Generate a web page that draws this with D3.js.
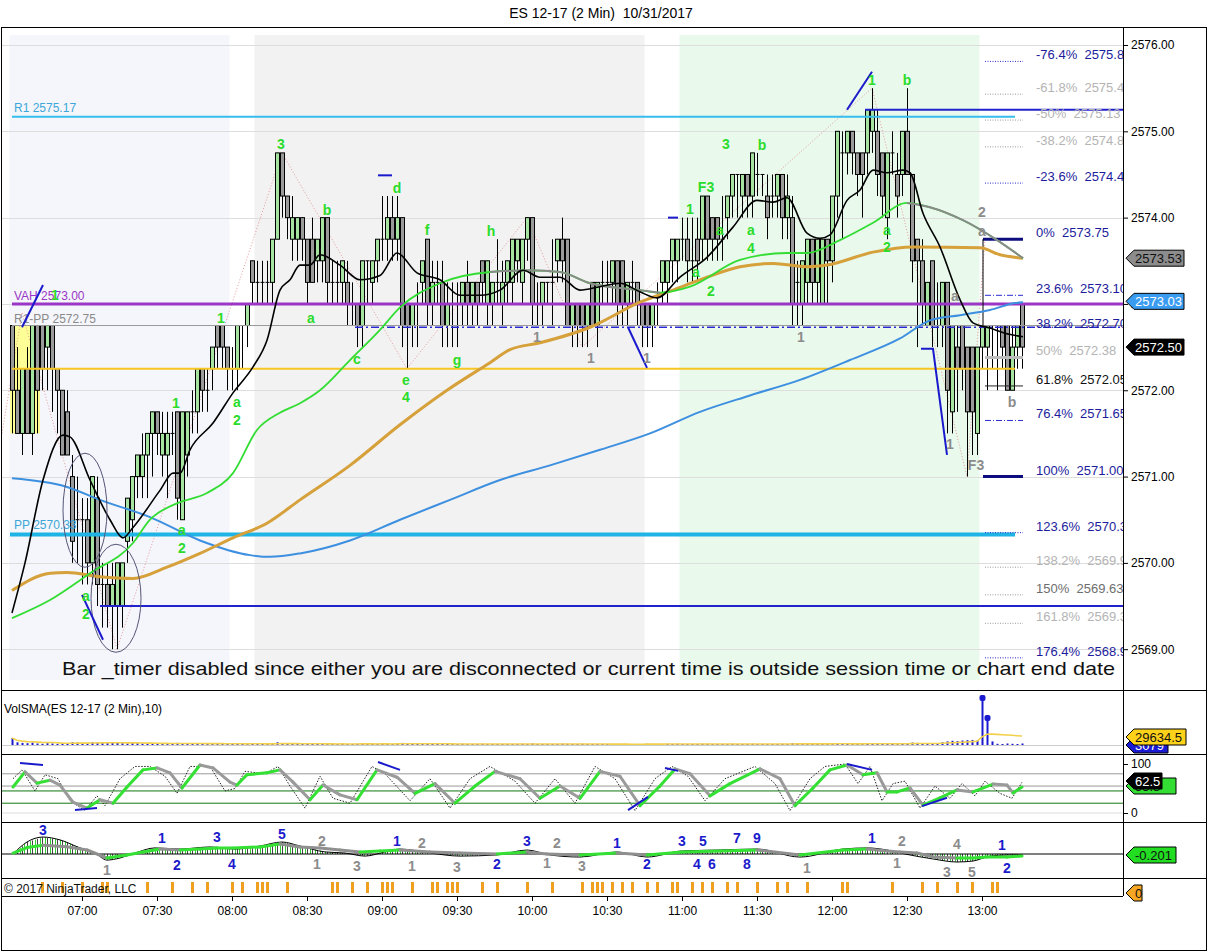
<!DOCTYPE html>
<html><head><meta charset="utf-8">
<script src="https://cdn.jsdelivr.net/npm/d3@7"></script>
<style>html,body{margin:0;padding:0;background:#fff;}svg{display:block;font-family:"Liberation Sans",Arial,sans-serif;}</style>
</head><body><svg id="c" width="1208" height="952"></svg>
<script>
// ---------------- DATA ----------------
const title = "ES 12-17 (2 Min)  10/31/2017";
const firstBar = "06:32";
const barMinutes = 2;
const priceTicks = [2569, 2570, 2571, 2572, 2573, 2574, 2575, 2576];
const timeTicks = ["07:00","07:30","08:00","08:30","09:00","09:30","10:00","10:30","11:00","11:30","12:00","12:30","13:00"];
const sessions = [["06:31","07:59"],["08:09","10:45"],["10:59","12:59"]];
// [open, high, low, close]
const ohlc = [
[2572.75,2572.75,2571.5,2572.0],[2572.0,2572.5,2571.5,2571.5],[2571.5,2572.25,2571.25,2572.25],[2572.25,2572.5,2571.5,2571.5],[2571.5,2572.75,2571.25,2572.75],
[2572.75,2572.75,2571.5,2572.0],[2572.75,2572.75,2572.0,2572.25],[2572.5,2572.75,2572.0,2572.75],[2572.75,2572.75,2571.75,2572.25],[2572.25,2572.25,2571.5,2572.0],
[2572.0,2572.0,2571.25,2571.25],[2571.75,2572.0,2571.25,2571.25],[2571.0,2571.25,2570.0,2570.25],[2570.5,2571.0,2570.0,2570.5],[2570.5,2570.75,2569.75,2570.5],
[2570.5,2570.75,2569.75,2570.0],[2570.0,2571.0,2569.75,2571.0],[2570.75,2571.0,2569.5,2569.75],[2569.75,2570.0,2569.25,2569.75],[2569.75,2570.0,2569.25,2569.5],
[2569.5,2570.0,2569.0,2569.75],[2569.5,2570.0,2569.0,2570.0],[2569.5,2570.0,2569.25,2570.0],[2570.25,2570.75,2570.0,2570.75],[2570.5,2571.0,2570.25,2571.0],
[2571.0,2571.25,2570.75,2571.25],[2571.0,2571.5,2570.75,2571.25],[2571.25,2571.5,2570.75,2571.5],[2571.5,2571.75,2571.0,2571.75],[2571.75,2571.75,2571.25,2571.5],
[2571.25,2571.75,2571.0,2571.5],[2571.25,2571.75,2570.75,2571.5],[2571.5,2571.75,2571.25,2571.5],[2571.75,2571.75,2570.5,2570.75],[2570.5,2571.75,2570.5,2571.75],
[2571.25,2571.75,2571.0,2571.75],[2571.75,2572.0,2571.5,2571.75],[2571.75,2572.25,2571.5,2572.25],[2572.25,2572.25,2571.75,2572.0],[2572.0,2572.25,2571.75,2572.0],
[2572.25,2572.5,2572.0,2572.5],[2572.75,2572.75,2572.25,2572.5],[2572.75,2572.75,2572.25,2572.5],[2572.5,2572.5,2572.0,2572.25],[2572.25,2572.5,2572.0,2572.25],
[2572.25,2572.75,2572.0,2572.75],[2572.75,2572.75,2572.25,2572.75],[2572.75,2573.0,2572.5,2573.0],[2573.5,2573.5,2573.0,2573.25],[2573.25,2573.5,2573.0,2573.25],
[2573.25,2573.5,2573.0,2573.25],[2573.25,2573.5,2573.0,2573.25],[2573.25,2573.75,2573.0,2573.75],[2573.75,2574.75,2573.75,2574.75],[2574.75,2574.75,2574.0,2574.25],
[2574.25,2574.25,2573.75,2574.0],[2573.75,2574.25,2573.5,2574.0],[2573.75,2574.0,2573.5,2574.0],[2574.0,2574.0,2573.5,2573.75],[2573.75,2573.75,2573.0,2573.25],
[2573.75,2574.0,2573.25,2573.25],[2573.5,2573.75,2573.25,2573.75],[2573.5,2574.0,2573.25,2574.0],[2574.0,2574.0,2573.0,2573.25],[2573.25,2573.5,2573.0,2573.25],
[2573.25,2573.5,2573.0,2573.25],[2573.25,2573.5,2573.0,2573.5],[2573.25,2573.5,2572.75,2573.0],[2573.0,2573.25,2572.75,2573.0],[2573.0,2573.0,2572.5,2572.75],
[2572.75,2573.5,2572.5,2573.5],[2573.5,2573.5,2573.0,2573.5],[2573.25,2573.5,2573.0,2573.5],[2573.5,2573.75,2573.25,2573.75],[2573.75,2574.25,2573.5,2573.75],
[2573.75,2574.25,2573.5,2574.0],[2574.0,2574.25,2573.5,2573.75],[2573.75,2574.25,2573.5,2574.0],[2574.0,2574.0,2572.5,2572.75],[2573.0,2573.0,2572.25,2572.75],
[2572.75,2573.0,2572.5,2573.0],[2573.0,2573.25,2572.5,2573.0],[2573.25,2573.5,2573.0,2573.5],[2573.75,2573.75,2572.75,2573.0],[2573.0,2573.5,2572.75,2573.25],
[2573.25,2573.5,2573.0,2573.25],[2573.25,2573.5,2572.5,2572.75],[2572.75,2573.25,2572.5,2573.0],[2573.0,2573.25,2572.5,2573.0],[2573.0,2573.25,2572.5,2573.0],
[2573.0,2573.25,2572.75,2573.25],[2573.25,2573.5,2572.75,2573.0],[2573.0,2573.25,2572.75,2573.25],[2573.25,2573.25,2572.75,2573.0],[2573.5,2573.5,2573.0,2573.25],
[2573.0,2573.5,2572.75,2573.5],[2573.0,2573.25,2572.75,2573.25],[2573.25,2573.75,2573.0,2573.25],[2573.0,2573.5,2572.75,2573.25],[2573.25,2573.5,2573.0,2573.5],
[2573.25,2573.75,2573.0,2573.75],[2573.5,2573.75,2573.25,2573.75],[2573.25,2573.75,2573.0,2573.75],[2573.75,2574.0,2573.5,2574.0],[2574.0,2574.0,2572.75,2573.0],
[2573.0,2573.25,2572.75,2573.0],[2573.0,2573.25,2572.75,2573.25],[2573.25,2573.25,2573.0,2573.25],[2573.25,2573.75,2572.75,2573.25],[2573.5,2573.75,2573.25,2573.75],
[2573.75,2574.0,2573.25,2573.5],[2573.75,2573.75,2572.75,2572.75],[2572.75,2573.0,2572.5,2573.0],[2573.0,2573.0,2572.5,2572.75],[2573.0,2573.0,2572.5,2572.75],
[2572.75,2573.0,2572.5,2573.0],[2573.25,2573.25,2572.75,2572.75],[2572.75,2573.25,2572.5,2573.25],[2573.25,2573.5,2573.0,2573.25],[2573.25,2573.5,2573.0,2573.25],
[2573.25,2573.5,2573.0,2573.5],[2573.5,2573.5,2572.75,2573.0],[2573.5,2573.5,2572.75,2573.0],[2573.0,2573.25,2572.75,2573.25],[2573.25,2573.5,2573.0,2573.25],
[2573.25,2573.25,2572.75,2573.0],[2573.0,2573.0,2572.5,2572.75],[2573.0,2573.0,2572.5,2572.75],[2572.75,2573.0,2572.5,2573.0],[2573.0,2573.25,2572.75,2573.0],
[2573.25,2573.5,2573.0,2573.5],[2573.25,2573.5,2573.0,2573.5],[2573.5,2573.75,2573.25,2573.75],[2573.5,2573.75,2573.25,2573.75],[2573.75,2574.0,2573.5,2573.75],
[2573.75,2574.0,2573.25,2573.5],[2573.5,2574.0,2573.25,2573.5],[2573.75,2574.0,2573.25,2573.5],[2573.75,2574.25,2573.5,2574.25],[2574.25,2574.25,2573.5,2573.75],
[2574.0,2574.0,2573.5,2573.75],[2574.0,2574.0,2573.5,2573.75],[2573.75,2574.25,2573.5,2573.75],[2574.0,2574.25,2573.75,2574.25],[2574.25,2574.5,2574.0,2574.5],
[2574.5,2574.5,2574.0,2574.5],[2574.25,2574.5,2574.0,2574.5],[2574.5,2574.5,2574.0,2574.25],[2574.25,2574.75,2574.0,2574.75],[2574.5,2574.75,2574.25,2574.5],
[2574.5,2574.5,2574.25,2574.5],[2574.25,2574.5,2573.75,2574.0],[2574.25,2574.5,2574.0,2574.25],[2574.25,2574.5,2574.0,2574.5],[2574.5,2574.5,2573.75,2574.0],
[2574.0,2574.5,2573.75,2574.25],[2574.0,2574.25,2572.75,2573.0],[2573.25,2573.5,2572.75,2573.25],[2573.0,2573.5,2572.75,2573.5],[2573.25,2573.75,2573.0,2573.75],
[2573.75,2573.75,2573.0,2573.25],[2573.25,2573.75,2573.0,2573.75],[2573.0,2573.75,2573.0,2573.75],[2573.75,2573.75,2573.0,2573.5],[2573.5,2574.25,2573.25,2574.25],
[2574.25,2575.0,2574.0,2575.0],[2574.75,2575.0,2573.75,2574.75],[2574.75,2575.0,2574.5,2575.0],[2575.0,2575.0,2574.5,2574.75],[2574.75,2574.75,2574.25,2574.5],
[2574.75,2574.75,2574.0,2574.5],[2574.75,2575.25,2574.5,2575.25],[2575.0,2575.5,2574.75,2575.25],[2575.0,2575.25,2574.25,2574.5],[2574.75,2574.75,2574.0,2574.25],
[2574.0,2574.75,2573.75,2574.75],[2574.75,2575.0,2574.5,2574.75],[2574.5,2574.75,2574.0,2574.25],[2574.5,2575.0,2574.25,2575.0],[2575.0,2575.5,2574.5,2574.5],
[2574.5,2574.5,2573.25,2573.5],[2573.75,2573.75,2572.5,2573.5],[2573.5,2573.75,2572.75,2573.0],[2572.75,2573.25,2572.75,2573.25],[2573.5,2573.5,2572.5,2572.75],
[2572.75,2573.25,2572.5,2572.75],[2572.75,2573.25,2572.5,2573.25],[2573.25,2573.25,2571.5,2572.0],[2571.75,2572.75,2571.5,2572.75],[2572.5,2572.75,2571.75,2572.25],
[2572.75,2572.75,2572.0,2572.25],[2572.5,2572.5,2571.0,2571.75],[2572.5,2572.5,2571.25,2571.75],[2571.5,2572.5,2571.25,2572.5],[2572.5,2572.75,2572.25,2572.75],
[2572.5,2572.75,2572.0,2572.75],[2572.75,2572.75,2572.25,2572.75],[2572.75,2572.75,2572.0,2572.75],[2572.75,2572.75,2572.25,2572.5],[2572.75,2572.75,2572.0,2572.0],
[2572.0,2572.75,2572.0,2572.5],[2572.5,2572.75,2572.25,2572.75],[2573.0,2573.0,2572.25,2572.5]
];
const volume = [
23000,9000,7000,6000,8000,5000,4000,6000,5000,4000,7000,6000,9000,8000,7000,6000,9000,8000,7000,6000,
9000,7000,6000,5000,7000,6000,5000,4000,6000,5000,4000,5000,3000,7000,6000,5000,4000,5000,4000,3000,
4000,5000,4000,3000,4000,5000,3000,4000,5000,4000,3000,3000,4000,9000,6000,4000,3000,4000,3000,4000,
3000,3000,4000,5000,3000,3000,4000,3000,3000,4000,5000,3000,3000,4000,4000,3000,3000,4000,7000,6000,
4000,3000,4000,5000,3000,3000,4000,3000,3000,3000,4000,3000,3000,3000,4000,3000,3000,3000,3000,3000,
3000,3000,4000,3000,5000,3000,3000,3000,3000,3000,4000,4000,3000,3000,4000,3000,3000,3000,2000,2000,
3000,3000,3000,3000,2000,3000,3000,4000,3000,3000,3000,4000,3000,4000,3000,3000,3000,3000,4000,4000,
3000,3000,3000,3000,4000,3000,3000,3000,4000,3000,3000,3000,3000,3000,4000,3000,6000,5000,4000,4000,
3000,3000,4000,3000,4000,6000,5000,4000,3000,3000,4000,5000,5000,5000,4000,4000,3000,3000,4000,5000,
8000,7000,6000,5000,6000,5000,9000,12000,14000,13000,15000,16000,17000,15000,157000,90000,12000,4000,3000,5000,
4000,3000,5000
];
// moving averages: [bar index, price]
const maFast = [[0,2569.42],[2.6,2570.0],[6.2,2570.96],[10.2,2571.48],[11.6,2571.46],[15.6,2570.96],[19.6,2570.5],[22.2,2570.29],[24.2,2570.41],[29.6,2570.84],[32.2,2571.04],[33.6,2571.04],[35.6,2571.31],[40.2,2571.62],[44.2,2571.97],[48.2,2572.27],[51,2572.58],[53.6,2573.16],[55.6,2573.28],[57.6,2573.45],[59.6,2573.45],[61.6,2573.57],[65.6,2573.45],[69.6,2573.28],[73.6,2573.33],[77,2573.59],[81,2573.36],[85.6,2573.28],[89.6,2573.1],[93.6,2573.1],[97.6,2573.16],[102.2,2573.39],[105.6,2573.31],[109.6,2573.31],[113.6,2573.16],[117.6,2573.2],[121.6,2573.24],[125.6,2573.14],[129,2573.07],[133.6,2573.31],[139,2573.54],[144.2,2573.89],[149,2574.2],[152.2,2574.18],[155,2574.23],[159,2573.82],[161.6,2573.76],[163.6,2573.8],[167,2574.2],[169.6,2574.32],[172.2,2574.55],[175,2574.52],[178.2,2574.55],[179.6,2574.52],[182.2,2574.05],[185.6,2573.66],[189.6,2573.05],[192.2,2572.78],[195.6,2572.72],[198.6,2572.66],[202.2,2572.62]];
const maMid = [[0,2569.36],[7.6,2569.57],[15.6,2569.88],[24.2,2570.23],[27.6,2570.5],[33,2570.69],[39,2570.81],[44.2,2571.04],[49,2571.54],[53.6,2571.74],[57.6,2571.85],[61.6,2572.0],[67.6,2572.35],[73.6,2572.7],[77.6,2572.96],[85.6,2573.24],[95.6,2573.37],[103.6,2573.39],[109.6,2573.37],[115.6,2573.24],[125.6,2573.16],[129.6,2573.13],[135.6,2573.2],[145.6,2573.51],[155,2573.59],[159,2573.59],[165.6,2573.74],[172.2,2573.94],[179,2574.17],[183.6,2574.12],[190.2,2573.97],[197,2573.74],[202.2,2573.53]];
const maSlow = [[0,2569.68],[7.6,2569.88],[11,2569.89],[17.6,2569.84],[24.2,2569.82],[31,2569.95],[37.6,2570.11],[44.2,2570.29],[51,2570.46],[57.6,2570.73],[67.6,2571.13],[77.6,2571.6],[87,2572.0],[95.6,2572.32],[99.6,2572.47],[105.6,2572.55],[115.6,2572.73],[125.6,2573.02],[132.2,2573.16],[139,2573.31],[145.6,2573.43],[152.2,2573.47],[159,2573.43],[163,2573.45],[172.2,2573.6],[180.2,2573.66],[193.6,2573.65],[197.6,2573.57],[202.2,2573.53]];
const maLong = [[0,2570.98],[11,2570.88],[17.6,2570.73],[27.6,2570.53],[37.6,2570.26],[47.6,2570.09],[51.6,2570.07],[57.6,2570.11],[67.6,2570.26],[77.6,2570.5],[87.6,2570.73],[97.6,2570.96],[107.6,2571.13],[117.6,2571.31],[127.6,2571.5],[137.6,2571.75],[147.6,2571.94],[157.6,2572.12],[167.6,2572.35],[177.6,2572.6],[183.6,2572.81],[189.6,2572.87],[195.6,2572.93],[200.6,2573.01],[202.2,2573.02]];
const zigzag = [[-2,2571.5],[2,2572.9],[21,2569.0],[54,2574.75],[79,2572.25],[103,2574.0],[114,2572.5],[172,2575.5],[191,2571.0],[194.6,2573.75]];
const pivotLevels = [
  {label:"R1 2575.17", price:2575.17},
  {label:"VAH 2573.00", price:2573.00},
  {label:"R1-PP 2572.75", price:2572.75},
  {label:"PP 2570.33", price:2570.33}
];
const pocPrice = 2572.25, swingLowPrice = 2569.5, swingHighPrice = 2575.25, retraceLinePrice = 2572.73;
const fibPct = ["-76.4%","-61.8%","-50%","-38.2%","-23.6%","0%","23.6%","38.2%","50%","61.8%","76.4%","100%","123.6%","138.2%","150%","161.8%","176.4%"];
const fibPrice = [2575.81,2575.43,2575.13,2574.82,2574.40,2573.75,2573.10,2572.70,2572.38,2572.05,2571.65,2571.00,2570.35,2569.95,2569.63,2569.30,2568.90];
const waveGreen = [[41.8,2572.84,"1"],[32.8,2571.85,"1"],[45,2571.86,"a"],[45,2571.65,"2"],[34,2570.38,"a"],[34,2570.17,"2"],[14.8,2569.62,"a"],[14.8,2569.41,"2"],[8.6,2573.1,"1"],[53.8,2574.85,"3"],[63,2574.09,"b"],[59.8,2572.84,"a"],[77,2574.34,"d"],[69,2572.36,"c"],[78.8,2572.12,"e"],[78.8,2571.92,"4"],[83,2573.86,"f"],[89,2572.35,"g"],[95.8,2573.84,"h"],[138.8,2574.35,"F3"],[135.6,2574.1,"1"],[141.6,2573.86,"a"],[142.8,2574.85,"3"],[150,2574.84,"b"],[147.8,2573.86,"a"],[147.8,2573.65,"4"],[136.8,2573.37,"a"],[139.8,2573.15,"2"],[172,2575.59,"1"],[179,2575.59,"b"],[175,2573.86,"a"],[175,2573.66,"2"]];
const waveGray = [[105,2572.62,"1"],[115.8,2572.37,"1"],[127,2572.37,"1"],[157.8,2572.62,"1"],[194,2574.06,"2"],[194,2573.84,"a"],[188.6,2573.09,"a"],[187.6,2571.38,"1"],[192.8,2571.13,"F3"],[200,2571.86,"b"]];
const swingLines = [[[2,2572.73],[6.2,2573.22]],[[14,2569.63],[18.2,2569.11]],[[167,2575.25],[172,2575.69]],[[123.2,2572.73],[127,2572.26]],[[181.8,2572.48],[184.2,2572.48],[187,2571.25]],[[73.2,2574.49],[76,2574.49]],[[131.2,2574.0],[133.2,2574.0]]];
// stochastics
const stochSlow = [[0.2,53],[2.6,84],[5,61],[7.6,67],[9.6,57],[12.2,22],[15,10],[17.6,27],[20.2,20],[23,53],[26.2,88],[29,92],[31.6,82],[34,51],[37.6,98],[40.2,92],[43.6,63],[45,57],[47,78],[51,82],[53.6,88],[56.2,63],[59.6,27],[62.2,57],[65.6,37],[69,27],[73,88],[77,73],[80.6,40],[84.6,60],[88.6,20],[92.6,55],[96.6,85],[101.6,70],[105.6,30],[109.6,55],[113.6,30],[117.6,85],[121.6,75],[125.6,15],[129.6,55],[132.6,90],[135.6,80],[139.6,35],[143.6,60],[149.6,90],[153.6,70],[156.6,15],[160.2,51],[163.6,88],[167,98],[170.2,78],[173,82],[175,43],[177,43],[179.6,51],[182.2,16],[185.6,31],[189,47],[192.2,43],[196.2,59],[199,57],[200.2,41],[202,53]];
const stochFast = [[0.2,70],[2,88],[4.6,45],[6.6,78],[9.2,70],[11.6,25],[14.6,5],[17,35],[18.6,15],[21.6,70],[24.6,95],[27.6,95],[30.6,75],[33,40],[35.6,95],[39.6,95],[42.6,45],[44.6,50],[46.6,85],[50.6,80],[53.2,95],[55.6,55],[58.6,10],[61.6,75],[64.2,30],[67.6,20],[72,95],[74.6,80],[79.6,25],[83.6,70],[87.6,10],[91.6,70],[95.6,95],[100.6,65],[104.6,20],[108.6,70],[112.6,20],[116.6,95],[120.6,70],[124.6,5],[128.6,70],[132,95],[135.2,75],[138.6,25],[142.6,70],[148.6,95],[152.6,60],[155.6,5],[159.6,70],[162.6,95],[166.6,100],[169.2,60],[171.6,95],[174,25],[176.2,60],[178.6,65],[181.6,10],[184.6,55],[187.6,30],[190,60],[192.6,35],[194.6,65],[197.6,40],[200,30],[202,62.5]];
const stochDiv = [[[1.6,102],[6.2,98]],[[12.6,6],[17,10]],[[73.2,104],[77.6,88]],[[123.2,6],[127.2,33]],[[130.6,92],[133.2,86]],[[167,100],[172,88]],[[182,14],[187,31]]];
// momentum oscillator
const oscMain = [[0.2,0.06],[3,0.4],[6.2,0.55],[11,0.45],[15,0.25],[19,-0.25],[23,-0.06],[26.2,0.13],[29.6,0.31],[33.6,0.25],[37.6,0.31],[41,0.38],[44.2,0.38],[49.6,0.44],[53.6,0.63],[57.6,0.44],[61.6,0.38],[65.6,0.25],[69.6,0.13],[73.6,0.19],[77.6,0.25],[83.6,0.13],[89.6,0.06],[97,0],[103,0.13],[107,0],[113.6,-0.06],[121,0.06],[127,-0.06],[134,0.13],[141.6,0.19],[149,0.25],[157.6,-0.06],[166.2,0.25],[171,0.31],[175,0.19],[177.6,0.13],[181,0.06],[184.2,-0.19],[189,-0.25],[192.2,-0.25],[195,-0.19],[199,-0.19],[202,-0.13]];
const oscSignal = [[0.2,0],[3,0.75],[6.2,1.06],[9.6,0.88],[13.6,0.38],[16.6,0.06],[19,-0.38],[21.6,-0.25],[24.6,0.06],[28.6,0.38],[33.6,0.31],[39.6,0.44],[44.6,0.31],[49.6,0.5],[54,0.75],[57.6,0.5],[62.6,0.13],[66.6,0.06],[70.6,-0.13],[74.6,0.13],[77.6,0.31],[83.6,0.06],[89.6,-0.13],[97,-0.06],[103,0.25],[107.6,-0.06],[113.6,-0.19],[121,0.13],[127,-0.19],[134,0.19],[141.6,0.25],[149,0.31],[157.6,-0.19],[166.2,0.31],[171,0.38],[175,0.25],[178.6,0],[184.2,-0.31],[189,-0.5],[192.2,-0.44],[195.6,-0.13],[199,-0.06],[202,-0.06]];
const oscLabelsBlue = [[6.2,1.5,"3"],[30,1.0,"1"],[33,-0.69,"2"],[41,1.06,"3"],[44,-0.63,"4"],[54,1.25,"5"],[77,0.81,"1"],[97,-0.63,"2"],[103,0.81,"3"],[121,0.69,"1"],[127,-0.63,"2"],[134,0.81,"3"],[138.2,0.81,"5"],[137,-0.63,"4"],[140,-0.63,"6"],[145,1.0,"7"],[149,1.0,"9"],[147,-0.63,"8"],[172,1.0,"1"],[198,0.56,"1"],[199,-0.88,"2"]];
const oscLabelsGray = [[19,-1.0,"1"],[62,0.81,"2"],[61,-0.63,"1"],[69,-0.75,"3"],[82,0.69,"2"],[80,-0.75,"1"],[89,-0.81,"3"],[109,0.69,"2"],[107,-0.56,"1"],[114,-0.75,"3"],[159,-0.88,"1"],[178,0.81,"2"],[177,-0.56,"1"],[189,0.63,"4"],[187,-1.13,"3"],[192,-1.13,"5"]];
const signalBars = [6,10,14,18,19,27,32,36,39,44,46,49,50,51,55,64,65,68,71,74,75,76,80,84,85,87,88,89,94,97,103,108,114,116,117,118,120,122,124,127,129,132,133,136,138,140,143,145,149,153,155,159,166,167,176,182,185,189,192,196,197];
const lastValues = {price:"2572.50", mid:"2573.53", long:"2573.03", volSma:"29634.5", vol:"3079", stochK:"62.5", stochD:"53.8", osc:"-0.201", signals:"0"};
const message = "Bar _timer disabled since either you are disconnected or current time is outside session time or chart end date";
const volTitle = "VolSMA(ES 12-17 (2 Min),10)";
const copyright = "\u00a9 2017 NinjaTrader, LLC";

// ---------------- SCALES ----------------
const svg = d3.select('#c');
const AX = 1123;
const tm = s => { const [h,m] = s.split(':').map(Number); return new Date(2017,9,31,h,m); };
const t0 = tm(firstBar);
const idxDate = f => new Date(t0.getTime() + f*barMinutes*60000);
const xT = d3.scaleTime().domain([tm("06:28"), new Date(2017,9,31,13,56,24)]).range([2, AX]);
const X = f => xT(idxDate(f));
const yP = d3.scaleLinear().domain([2569, 2576]).range([649.2, 45]);
const yV = d3.scaleLinear().domain([0, 160000]).range([745, 697]);
const yS = d3.scaleLinear().domain([0, 100]).range([813, 764]);
const yO = d3.scaleLinear().domain([-1.5, 1.5]).range([878, 830]);

const defs = svg.append('defs');
function clip(id, x, y, w, h){ defs.append('clipPath').attr('id', id).append('rect').attr('x',x).attr('y',y).attr('width',w).attr('height',h); }
clip('cMain', 2, 28, AX-2, 661); clip('cVol', 2, 691, AX-2, 62); clip('cSto', 2, 755, AX-2, 66); clip('cOsc', 2, 823, AX-2, 54); clip('cSig', 2, 879, AX-2, 16);

function interpAt(arr, f){ if (f <= arr[0][0]) return arr[0][1]; for (let k=1;k<arr.length;k++){ if (f <= arr[k][0]){ const a=arr[k-1], b=arr[k]; return a[1]+(b[1]-a[1])*(f-a[0])/(b[0]-a[0]); } } return arr[arr.length-1][1]; }

// ---------------- FRAME ----------------
svg.append('text').attr('x',601).attr('y',18).attr('text-anchor','middle').attr('font-size',14).style('white-space','pre').text(title);
svg.append('rect').attr('x',1.5).attr('y',27.5).attr('width',1205).attr('height',923).attr('fill','none').attr('stroke','#000');

// ---------------- MAIN PANEL ----------------
const gM = svg.append('g').attr('clip-path','url(#cMain)');
const bandColors = ['#f4f6fb','#f2f2f2','#e9f9ec'];
sessions.forEach((s,k) => gM.append('rect').attr('x', xT(tm(s[0]))).attr('y',35).attr('width', xT(tm(s[1]))-xT(tm(s[0]))).attr('height',645).attr('fill',bandColors[k]));
priceTicks.forEach(p => gM.append('line').attr('x1',2).attr('x2',AX).attr('y1',Math.round(yP(p))+0.5).attr('y2',Math.round(yP(p))+0.5).attr('stroke','#dddddd'));
// highlight box
gM.append('rect').attr('x',X(-0.4)).attr('y',yP(2572.75)).attr('width',X(5.6)-X(-0.4)).attr('height',yP(2571.5)-yP(2572.75)).attr('fill','#ffff8c').attr('opacity',0.9);
// zigzag
gM.append('path').attr('d', d3.line().x(d=>X(d[0])).y(d=>yP(d[1]))(zigzag)).attr('fill','none').attr('stroke','#e69a9a').attr('stroke-dasharray','1,2');
// candles
const gC = gM.append('g');
ohlc.forEach((b,i) => {
  const xc = Math.round(X(i)) + 0.5;
  const [o,h,l,c] = b;
  gC.append('line').attr('x1',xc).attr('x2',xc).attr('y1',yP(h)).attr('y2',yP(l)).attr('stroke','#000');
  const top = yP(Math.max(o,c)), bot = yP(Math.min(o,c));
  if (bot - top < 1) gC.append('line').attr('x1',xc-2).attr('x2',xc+2).attr('y1',top).attr('y2',top).attr('stroke','#000');
  else gC.append('rect').attr('x',xc-2).attr('y',top).attr('width',4).attr('height',bot-top).attr('fill', c>o ? '#a6e3a1' : '#9a9a9a').attr('stroke','#000');
});
// levels
function hline(p, x1, x2, color, w, dash){ const l = gM.append('line').attr('x1',x1).attr('x2',x2).attr('y1',yP(p)).attr('y2',yP(p)).attr('stroke',color).attr('stroke-width',w); if (dash) l.attr('stroke-dasharray',dash); return l; }
hline(pivotLevels[2].price, X(0), AX, '#9a9a9a', 1);
hline(retraceLinePrice, X(68.6), AX, '#2a2ad0', 1.5, '8,3,2,3');
hline(pocPrice, X(0), X(200.6), '#f7c623', 2);
hline(swingLowPrice, X(17.6), AX, '#2222cc', 2);
hline(swingHighPrice, X(170.6), AX, '#2222cc', 2);
hline(pivotLevels[0].price, X(0), X(200.6), '#37bdec', 2);
hline(pivotLevels[3].price, X(-0.4), X(200.6), '#1fb4e6', 4);
hline(pivotLevels[1].price, X(0), AX, '#9b37c6', 3);
const lvlColors = ['#3ca6d8','#9b37c6','#8a8a8a','#3ca6d8'];
const lvlOffset = [-5,-4,-3,-5];
pivotLevels.forEach((L,k) => gM.append('text').attr('x',14).attr('y',yP(L.price)+lvlOffset[k]).attr('font-size',12).attr('fill',lvlColors[k]).text(L.label));
// fib block
const fibColor = ['#1c1c9c','#b4b4b4','#b4b4b4','#b4b4b4','#1c1c9c','#1c1c9c','#1c1c9c','#1c1c9c','#b4b4b4','#111111','#1c1c9c','#1c1c9c','#1c1c9c','#b4b4b4','#6e6e6e','#b4b4b4','#1c1c9c'];
fibPrice.forEach((p,k) => {
  const x1 = X(194.6), x2 = X(202.2);
  if (k===5 || k===11) hline(p, x1-2, x2, '#0d0d80', 3);
  else if (k===6 || k===10) hline(p, x1, x2, '#2a2ad0', 1, '6,2,1,2');
  else if (k===8) hline(p, x1, x2, '#bbbbbb', 3);
  else if (k===9) hline(p, x1, x2, '#222', 1);
  else if (k!==7) hline(p, x1, x2, fibColor[k]==='#1c1c9c' ? '#2a2ad0' : '#999', 1, '1,1.5');
  gM.append('text').attr('x',1036).attr('y',yP(p)-2).attr('font-size',13).attr('fill',fibColor[k]).style('white-space','pre').text(fibPct[k] + '  ' + fibPrice[k].toFixed(2));
});
gM.append('line').attr('x1',X(194.2)).attr('x2',X(194.2)).attr('y1',yP(2573.75)).attr('y2',yP(2572.75)).attr('stroke','#000');
// moving averages
const maLine = d3.line().x(d=>X(d[0])).y(d=>yP(d[1])).curve(d3.curveMonotoneX);
gM.append('path').attr('d',maLine(maLong)).attr('fill','none').attr('stroke','#3d8fe0').attr('stroke-width',2);
gM.append('path').attr('d',maLine(maSlow)).attr('fill','none').attr('stroke','#d6a03a').attr('stroke-width',3);
gM.append('path').attr('d',maLine(maMid)).attr('fill','none').attr('stroke','#33dd33').attr('stroke-width',1.8);
gM.append('path').attr('d',maLine(maMid.filter(d=>d[0]>=95.6 && d[0]<=129.6))).attr('fill','none').attr('stroke','#8a8a8a').attr('stroke-width',2);
gM.append('path').attr('d',maLine(maMid.filter(d=>d[0]>=179))).attr('fill','none').attr('stroke','#8a8a8a').attr('stroke-width',2);
gM.append('path').attr('d',maLine(maFast)).attr('fill','none').attr('stroke','#000').attr('stroke-width',1.6);
// ellipses
gM.append('ellipse').attr('cx',X(14.6)).attr('cy',yP(2570.61)).attr('rx',22).attr('ry',57).attr('fill','none').attr('stroke','#555577');
gM.append('ellipse').attr('cx',X(20.8)).attr('cy',yP(2569.59)).attr('rx',25).attr('ry',54).attr('fill','none').attr('stroke','#555577');
// swing lines
swingLines.forEach(s => gM.append('path').attr('d', d3.line().x(d=>X(d[0])).y(d=>yP(d[1]))(s)).attr('fill','none').attr('stroke','#1a1acc').attr('stroke-width',2));
// wave labels
waveGreen.forEach(w => gM.append('text').attr('x',X(w[0])).attr('y',yP(w[1])+5).attr('text-anchor','middle').attr('font-size',14).attr('font-weight','bold').attr('fill','#2bdc2b').text(w[2]));
waveGray.forEach(w => gM.append('text').attr('x',X(w[0])).attr('y',yP(w[1])+5).attr('text-anchor','middle').attr('font-size',14).attr('font-weight','bold').attr('fill','#8c8c8c').text(w[2]));
// message
gM.append('text').attr('x',62).attr('y',675).attr('font-size',19).attr('fill','#111').attr('textLength',1053).attr('lengthAdjust','spacingAndGlyphs').text(message);

// price axis
const axP = svg.append('g').attr('transform',`translate(${AX},0)`).call(d3.axisRight(yP).tickValues(priceTicks).tickFormat(d3.format('.2f')).tickSize(5).tickPadding(3));
axP.select('.domain').remove();
axP.selectAll('text').attr('font-size',12).attr('font-family','"Liberation Sans",Arial,sans-serif');

// ---------------- VOLUME PANEL ----------------
const gV = svg.append('g').attr('clip-path','url(#cVol)');
gV.append('line').attr('x1',2).attr('x2',AX).attr('y1',745.5).attr('y2',745.5).attr('stroke','#cccccc');
volume.forEach((v,i) => {
  const xc = Math.round(X(i)) + 0.5;
  const y1 = Math.min(yV(v), 744);
  gV.append('line').attr('x1',xc).attr('x2',xc).attr('y1',745).attr('y2',y1).attr('stroke','#1a1ad0').attr('stroke-width',2);
  if (v > 50000) gV.append('rect').attr('x',xc-3).attr('y',y1-3).attr('width',6).attr('height',6).attr('rx',2).attr('fill','#1a1ad0');
});
const volSma = volume.map((v,i) => { const s = volume.slice(Math.max(0,i-9), i+1); return [i, d3.mean(s)]; });
gV.append('path').attr('d', d3.line().x(d=>X(d[0])).y(d=>yV(d[1]))(volSma)).attr('fill','none').attr('stroke','#f2d04a').attr('stroke-width',1.6);
svg.append('text').attr('x',4).attr('y',713).attr('font-size',12).text(volTitle);

// ---------------- STOCHASTICS ----------------
const gS = svg.append('g').attr('clip-path','url(#cSto)');
[[80,'#999'],[55,'#999'],[45,'#117711'],[20,'#117711'],[0,'#dddddd']].forEach(d => gS.append('line').attr('x1',2).attr('x2',AX).attr('y1',yS(d[0])).attr('y2',yS(d[0])).attr('stroke',d[1]));
gS.append('path').attr('d', d3.line().x(d=>X(d[0])).y(d=>yS(d[1]))(stochFast)).attr('fill','none').attr('stroke','#222').attr('stroke-dasharray','1.5,1.5');
for (let k=1;k<stochSlow.length;k++){ const a=stochSlow[k-1], b=stochSlow[k];
  gS.append('line').attr('x1',X(a[0])).attr('y1',yS(a[1])).attr('x2',X(b[0])).attr('y2',yS(b[1])).attr('stroke', b[1]>=a[1] ? '#33e033' : '#9a9a9a').attr('stroke-width',3).attr('stroke-linecap','round'); }
stochDiv.forEach(s => gS.append('path').attr('d', d3.line().x(d=>X(d[0])).y(d=>yS(d[1]))(s)).attr('fill','none').attr('stroke','#1a1acc').attr('stroke-width',2));
const axS = svg.append('g').attr('transform',`translate(${AX},0)`).call(d3.axisRight(yS).tickValues([0,100]).tickSize(5).tickPadding(3));
axS.select('.domain').remove(); axS.selectAll('text').attr('font-size',12).attr('font-family','"Liberation Sans",Arial,sans-serif');

// ---------------- OSCILLATOR ----------------
const gO = svg.append('g').attr('clip-path','url(#cOsc)');
for (let f=0; f<=202; f+=0.5){ const v = interpAt(oscSignal, f); const xc = Math.round(X(f))+0.5;
  gO.append('line').attr('x1',xc).attr('x2',xc).attr('y1',yO(0)).attr('y2',yO(v)).attr('stroke', (f%1===0) ? '#444' : '#33cc33').attr('stroke-width',1); }
gO.append('line').attr('x1',2).attr('x2',AX).attr('y1',yO(0)).attr('y2',yO(0)).attr('stroke','#000');
gO.append('path').attr('d', d3.line().x(d=>X(d[0])).y(d=>yO(d[1])).curve(d3.curveMonotoneX)(oscSignal)).attr('fill','none').attr('stroke','#000').attr('stroke-width',1);
for (let k=1;k<oscMain.length;k++){ const a=oscMain[k-1], b=oscMain[k];
  gO.append('line').attr('x1',X(a[0])).attr('y1',yO(a[1])).attr('x2',X(b[0])).attr('y2',yO(b[1])).attr('stroke', b[1]>=a[1] ? '#33e033' : '#8f8f8f').attr('stroke-width',3).attr('stroke-linecap','round'); }
oscLabelsBlue.forEach(w => gO.append('text').attr('x',X(w[0])).attr('y',yO(w[1])+5).attr('text-anchor','middle').attr('font-size',14).attr('font-weight','bold').attr('fill','#1a1acc').text(w[2]));
oscLabelsGray.forEach(w => gO.append('text').attr('x',X(w[0])).attr('y',yO(w[1])+5).attr('text-anchor','middle').attr('font-size',14).attr('font-weight','bold').attr('fill','#8c8c8c').text(w[2]));

// ---------------- SIGNAL TICKS ----------------
const gG = svg.append('g').attr('clip-path','url(#cSig)');
signalBars.forEach(i => gG.append('rect').attr('x',Math.round(X(i))-1).attr('y',882).attr('width',3).attr('height',11).attr('fill','#f0a020'));
svg.append('text').attr('x',4).attr('y',893).attr('font-size',12).attr('fill','#111').text(copyright);

// ---------------- SEPARATORS & AXES ----------------
[690,754,822,878].forEach(yy => svg.append('line').attr('x1',1).attr('x2',1207).attr('y1',yy+0.5).attr('y2',yy+0.5).attr('stroke','#000'));
svg.append('line').attr('x1',AX+0.5).attr('x2',AX+0.5).attr('y1',27).attr('y2',896).attr('stroke','#000');
svg.append('line').attr('x1',1).attr('x2',AX).attr('y1',896.5).attr('y2',896.5).attr('stroke','#000');
const axT = svg.append('g').attr('transform','translate(0,896)').call(d3.axisBottom(xT).tickValues(timeTicks.map(tm)).tickFormat(d3.timeFormat('%H:%M')).tickSize(5).tickPadding(5));
axT.select('.domain').remove(); axT.selectAll('text').attr('font-size',12).attr('font-family','"Liberation Sans",Arial,sans-serif');

// ---------------- VALUE TAGS ----------------
function tag(yc, txt, fill, color, w){
  const g = svg.append('g');
  g.append('path').attr('d',`M${AX+3},${yc} L${AX+11},${yc-8} L${AX+11+w},${yc-8} L${AX+11+w},${yc+8} L${AX+11},${yc+8} Z`).attr('fill',fill).attr('stroke','#000').attr('stroke-width',1);
  g.append('text').attr('x',AX+12).attr('y',yc+5).attr('font-size',13).attr('fill',color).text(txt);
}
tag(yP(+lastValues.mid), lastValues.mid, '#8c8c8c', '#111', 50);
tag(yP(+lastValues.long), lastValues.long, '#3a9cf0', '#fff', 50);
tag(yP(+lastValues.price), lastValues.price, '#000', '#fff', 50);
tag(745, lastValues.vol, '#1a1ad0', '#fff', 34);
tag(737, lastValues.volSma, '#ffd21a', '#111', 52);
tag(786, lastValues.stochD, '#33dd33', '#111', 42);
tag(781, lastValues.stochK, '#000', '#fff', 28);
tag(855, lastValues.osc, '#22dd22', '#111', 42);
tag(893, lastValues.signals, '#f5a623', '#111', 8);
</script></body></html>
